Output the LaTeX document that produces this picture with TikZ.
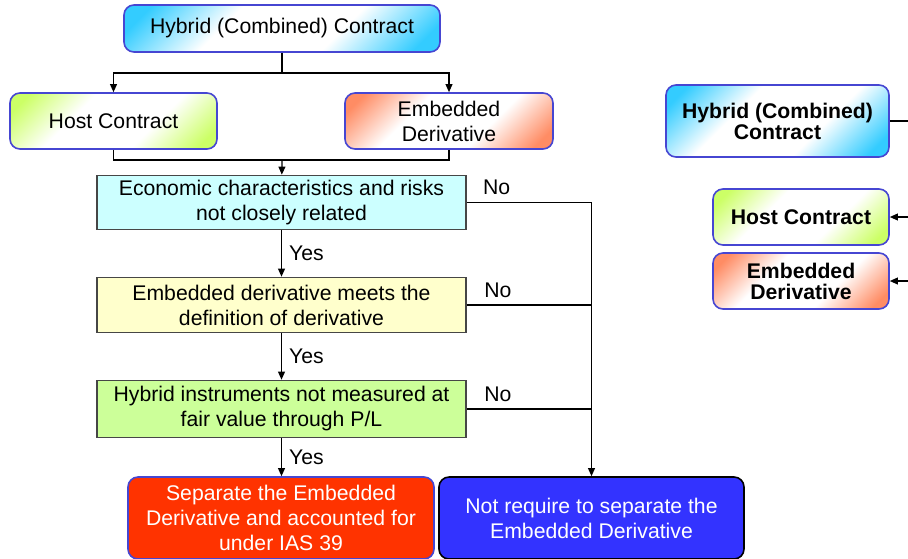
\documentclass[tikz,border=0pt]{standalone}
\usepackage{fontspec}
\setmainfont{Liberation Sans}
\usepackage{tikz}
\usetikzlibrary{calc, arrows, arrows.meta}

\definecolor{skyb}{RGB}{51,204,255}
\definecolor{limeg}{RGB}{204,255,102}
\definecolor{salmn}{RGB}{255,140,100}
\definecolor{cyanf}{RGB}{204,255,255}
\definecolor{yellf}{RGB}{255,255,204}
\definecolor{greenf}{RGB}{204,255,153}
\definecolor{redf}{RGB}{255,51,0}
\definecolor{bluef}{RGB}{51,51,255}
\definecolor{edgeb}{RGB}{70,70,210}
\definecolor{edgeg}{RGB}{70,70,70}

% diagonal fades: colour in two corners, white in the middle
\pgfdeclareverticalshading{skysh}{100bp}{color(0bp)=(skyb); color(20bp)=(skyb);
  color(38bp)=(white); color(62bp)=(white); color(80bp)=(skyb); color(100bp)=(skyb)}
\pgfdeclareverticalshading{limesh}{100bp}{color(0bp)=(limeg); color(20bp)=(limeg);
  color(38bp)=(white); color(62bp)=(white); color(80bp)=(limeg); color(100bp)=(limeg)}
\pgfdeclareverticalshading{salmsh}{100bp}{color(0bp)=(salmn); color(20bp)=(salmn);
  color(38bp)=(white); color(62bp)=(white); color(80bp)=(salmn); color(100bp)=(salmn)}

\begin{document}
\begin{tikzpicture}[x=0.5pt,y=-0.5pt,line width=0.65pt,
    >={Triangle[length=4pt,width=3.4pt]},
    txt/.style={font=\fontsize{10.6}{12.5}\selectfont, align=center},
    shbox/.style={txt, draw=edgeb, line width=0.8pt, rounded corners=5pt, inner sep=0pt,
      shading=#1, shading angle=45},
    cond/.style={txt, draw=edgeg, line width=0.8pt, inner sep=0pt, fill=#1,
      minimum width=184.5pt},
    result/.style={txt, text=white, rounded corners=5pt, line width=0.8pt, inner sep=0pt,
      fill=#1, minimum height=41pt},
    bbox/.style={shbox=#1, font=\fontsize{10.6}{10.5}\selectfont\bfseries},
    lbl/.style={txt, inner sep=3.5pt}]
  \useasboundingbox (0,0) rectangle (908,558);
  % top of the chart
  \node[shbox=skysh, minimum width=158pt, minimum height=23.5pt] (hybrid) at (282,28.5)
    {Hybrid (Combined) Contract};
  \node[shbox=limesh, minimum width=103.5pt, minimum height=28pt] (host) at (113.5,121)
    {Host Contract};
  \node[shbox=salmsh, minimum width=104pt, minimum height=28pt] (embd) at (449,121)
    {Embedded\\Derivative};
  \coordinate (split) at (282,73);
  \coordinate (join) at (282,160);
  % conditions
  \node[cond=cyanf, minimum height=27pt] (econ) at (281.5,202.5)
    {Economic characteristics and risks\\not closely related};
  \node[cond=yellf, minimum height=27.5pt] (defn) at (281.5,305)
    {Embedded derivative meets the\\definition of derivative};
  \node[cond=greenf, minimum height=28.5pt] (fvpl) at (281.5,409)
    {Hybrid instruments not measured at\\fair value through P/L};
  % outcomes
  \node[result=redf, draw=edgeb, minimum width=153pt] (sep) at (281,518)
    {Separate the Embedded\\Derivative and accounted for\\under IAS 39};
  \node[result=bluef, draw=black, minimum width=152.5pt] (nosep) at (591.5,518)
    {Not require to separate the\\Embedded Derivative};
  % right hand side
  \node[bbox=skysh, minimum width=111.5pt, minimum height=36pt] (hybridR) at (777.5,121)
    {Hybrid (Combined)\\Contract};
  \node[bbox=limesh, minimum width=88pt, minimum height=28pt] (hostR) at (801,217)
    {Host Contract};
  \node[bbox=salmsh, minimum width=88pt, minimum height=28pt] (embdR) at (801,281)
    {Embedded\\Derivative};
  \coordinate (rA) at (908,121);
  \coordinate (rB) at (908,217);
  \coordinate (rC) at (908,281);

  % split and join
  \draw (hybrid) -- (split);
  \draw[->] (split) -| (host);
  \draw[->] (split) -| (embd);
  \draw (host) |- (join);
  \draw (embd) |- (join);
  \draw[->] (join) -- (econ);
  % yes branch
  \draw[->] (econ) -- node[lbl, right] {Yes} (defn);
  \draw[->] (defn) -- node[lbl, right] {Yes} (fvpl);
  \draw[->] (fvpl) -- node[lbl, right] {Yes} (sep.north -| fvpl.south);
  % no branch
  \draw[->] (econ) -| node[lbl, above, pos=0.12] {No} (nosep);
  \draw (defn.east) -- node[lbl, above, pos=0.25] {No} (defn.east -| nosep.north);
  \draw (fvpl.east) -- node[lbl, above, pos=0.25] {No} (fvpl.east -| nosep.north);
  % lines at the right edge
  \draw (hybridR) -- (rA);
  \draw[->] (rB) -- (hostR);
  \draw[->] (rC) -- (embdR);
\end{tikzpicture}
\end{document}
